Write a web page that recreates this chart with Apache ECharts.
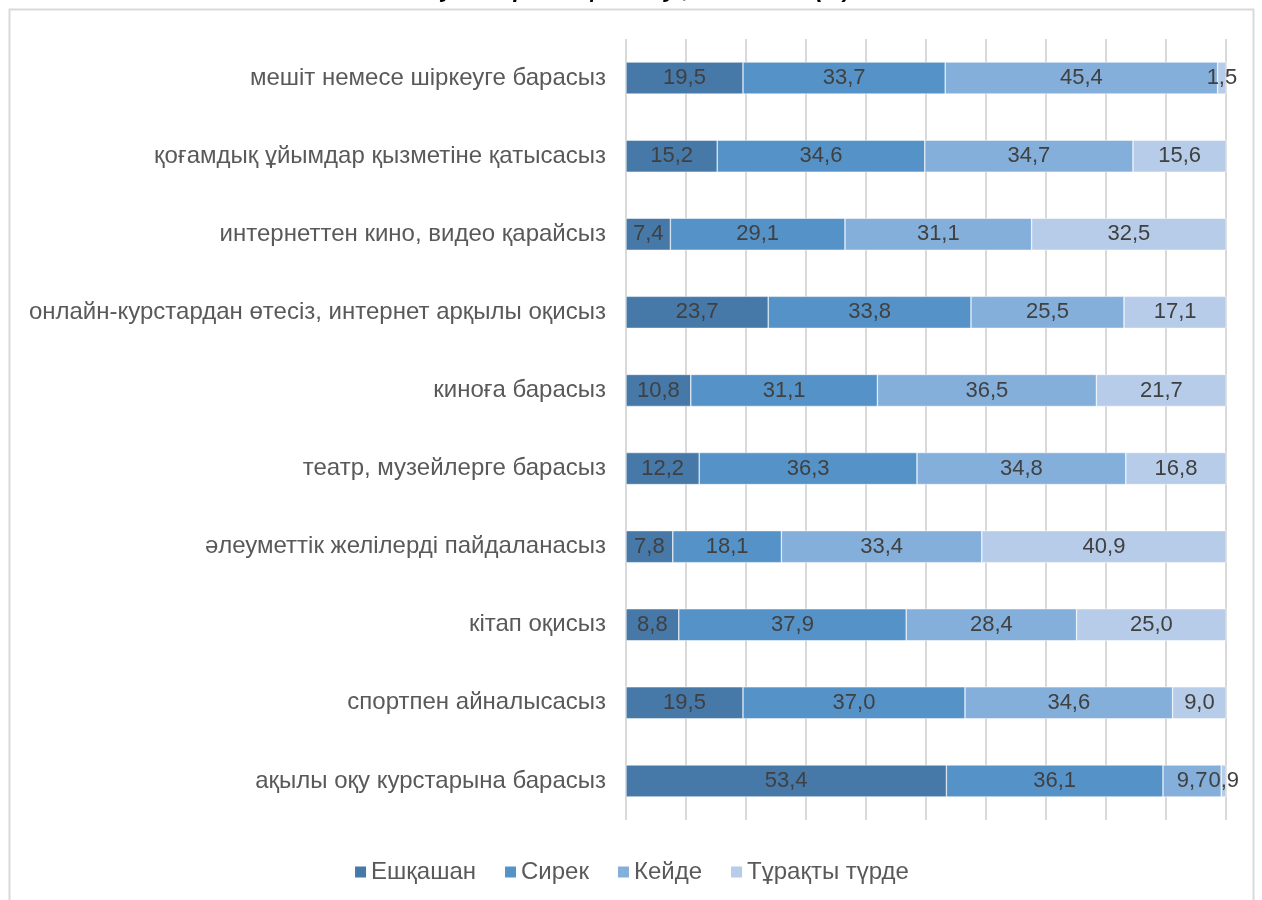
<!DOCTYPE html>
<html>
<head>
<meta charset="utf-8">
<script src="https://cdn.jsdelivr.net/npm/echarts@6/dist/echarts.min.js"></script>
<style>
  html, body { margin: 0; padding: 0; background: #fff; }
  #chart { width: 1262px; height: 900px; }
</style>
</head>
<body>
<div id="chart"></div>
<script>
const categories = [
  'мешіт немесе шіркеуге барасыз',
  'қоғамдық ұйымдар қызметіне қатысасыз',
  'интернеттен кино, видео қарайсыз',
  'онлайн-курстардан өтесіз, интернет арқылы оқисыз',
  'киноға барасыз',
  'театр, музейлерге барасыз',
  'әлеуметтік желілерді пайдаланасыз',
  'кітап оқисыз',
  'спортпен айналысасыз',
  'ақылы оқу курстарына барасыз'
];
const seriesNames = ['Ешқашан', 'Сирек', 'Кейде', 'Тұрақты түрде'];
const never = [19.5, 15.2, 7.4, 23.7, 10.8, 12.2, 7.8, 8.8, 19.5, 53.4];
const rarely = [33.7, 34.6, 29.1, 33.8, 31.1, 36.3, 18.1, 37.9, 37.0, 36.1];
const sometimes = [45.4, 34.7, 31.1, 25.5, 36.5, 34.8, 33.4, 28.4, 34.6, 9.7];
const regularly = [1.5, 15.6, 32.5, 17.1, 21.7, 16.8, 40.9, 25.0, 9.0, 0.9];
const colors = ['#4678A8', '#5592C8', '#84AFDB', '#B6CCE8'];

const chart = echarts.init(document.getElementById('chart'));
const fontFamily = 'Liberation Sans, Arial, sans-serif';

const seriesData = [never, rarely, sometimes, regularly];
const series = seriesData.map((data, i) => ({
  name: seriesNames[i],
  type: 'bar',
  stack: 'total',
  barWidth: 32,
  data: data,
  itemStyle: { color: colors[i], borderColor: '#fff', borderWidth: 0.5 },
  label: {
    show: true,
    position: 'inside',
    color: '#404040',
    fontSize: 22,
    fontFamily: fontFamily,
    formatter: p => p.value.toFixed(1).replace('.', ',')
  }
}));

chart.setOption({
  animation: false,
  textStyle: { fontFamily: fontFamily },
  graphic: [
    {
      type: 'rect',
      shape: { x: 9.5, y: 9.5, width: 1244, height: 900 },
      style: { fill: 'none', stroke: '#d9d9d9', lineWidth: 2 },
      silent: true,
      z: -10
    },
    {
      type: 'text',
      left: 'center',
      top: -21,
      style: {
        text: 'жауаптарының бөлінуі, пайызбен (%)',
        fontSize: 23,
        fontWeight: 'bold',
        fontStyle: 'italic',
        fontFamily: fontFamily,
        fill: '#000'
      }
    }
  ],
  legend: {
    bottom: 11,
    left: 'center',
    itemWidth: 13,
    itemHeight: 13,
    itemGap: 27,
    icon: 'rect',
    textStyle: { color: '#595959', fontSize: 24, fontFamily: fontFamily, padding: [0, 0, 0, -1] },
    data: seriesNames
  },
  grid: { left: 626, right: 36, top: 39, bottom: 80 },
  xAxis: {
    type: 'value',
    min: 0,
    max: 100,
    interval: 10,
    axisLabel: { show: false },
    axisLine: { show: false },
    axisTick: { show: false },
    splitLine: { lineStyle: { color: '#d9d9d9', width: 2 } }
  },
  yAxis: {
    type: 'category',
    inverse: true,
    data: categories,
    axisLine: { show: false },
    axisTick: { show: false },
    axisLabel: { color: '#595959', fontSize: 24, fontFamily: fontFamily, margin: 20 }
  },
  series: series
});
</script>
</body>
</html>
